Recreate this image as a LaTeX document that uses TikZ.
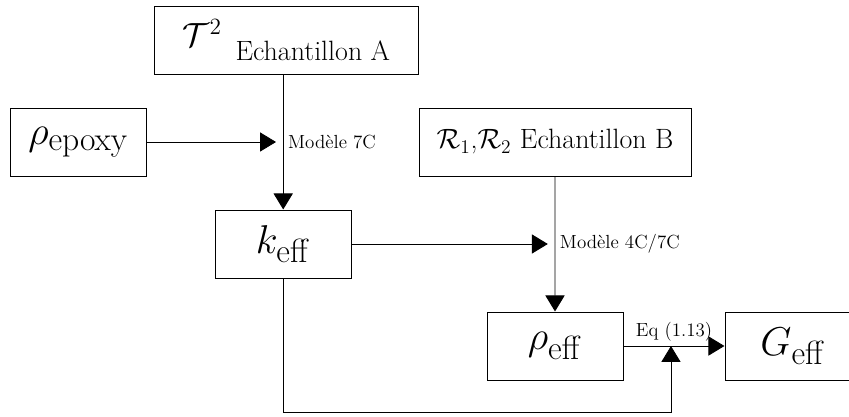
\documentclass[tikz,border=0pt]{standalone}
\usepackage{tikz}
\usetikzlibrary{positioning, arrows.meta, calc}
\usepackage{amsmath}

\begin{document}
\begin{tikzpicture}[
        box/.style={draw, scale=1.15, line width=0.6pt, minimum width=2.96cm, minimum height=1.48cm, font=\Huge},
        arr/.style={line width=0.6pt, -{Triangle[length=0.4cm, width=0.48cm]}},
        lbl/.style={font=\fontsize{13.5}{16}\selectfont}]
        \useasboundingbox (0,0) rectangle (21.225,10.425);
        % boites
        \node[box, minimum width=5.74cm, font=\LARGE] (tA) at (7.16,9.425)
          {{\huge$\mathcal{T}^2$}\hspace{0.3cm}\raisebox{-8.7pt}{Echantillon A}};
        \node[box] (rep) at (1.96,6.875) {$\rho_{\mathrm{epoxy}}$};
        \node[box, minimum width=5.91cm, font=\LARGE] (rB) at (13.875,6.875)
          {$\mathcal{R}_1$,$\mathcal{R}_2$ Echantillon B};
        \node[box] (keff) at (7.08,4.325) {$k_{\mathrm{eff}}$};
        \node[box] (reff) at (13.875,1.775) {$\rho_{\mathrm{eff}}$};
        \node[box] (geff) at (19.825,1.775) {$G_{\mathrm{eff}}$};
        % jonctions
        \coordinate (j7) at (keff |- rep);
        \coordinate (j4) at (reff |- keff);
        \coordinate (j3) at ($(reff.east)!0.47!(geff.west)$);
        % fleches
        \draw[arr] (keff |- tA.south) -- (keff.north);
        \draw[arr, shorten >=0.18cm] (rep) -- (j7);
        \node[lbl, right] (m7) at (j7) {Modèle 7C};
        \draw[arr] (rB) -- (reff);
        \draw[arr, shorten >=0.18cm] (keff) -- (j4);
        \node[lbl, right] (m4) at (j4) {Modèle 4C/7C};
        \draw[arr] (reff) -- node[lbl, above] (eq) {Eq (1.13)} (geff);
        \draw[arr] (keff.south) -- ++(0,-3.35) -| (j3);
      \end{tikzpicture}
\end{document}
